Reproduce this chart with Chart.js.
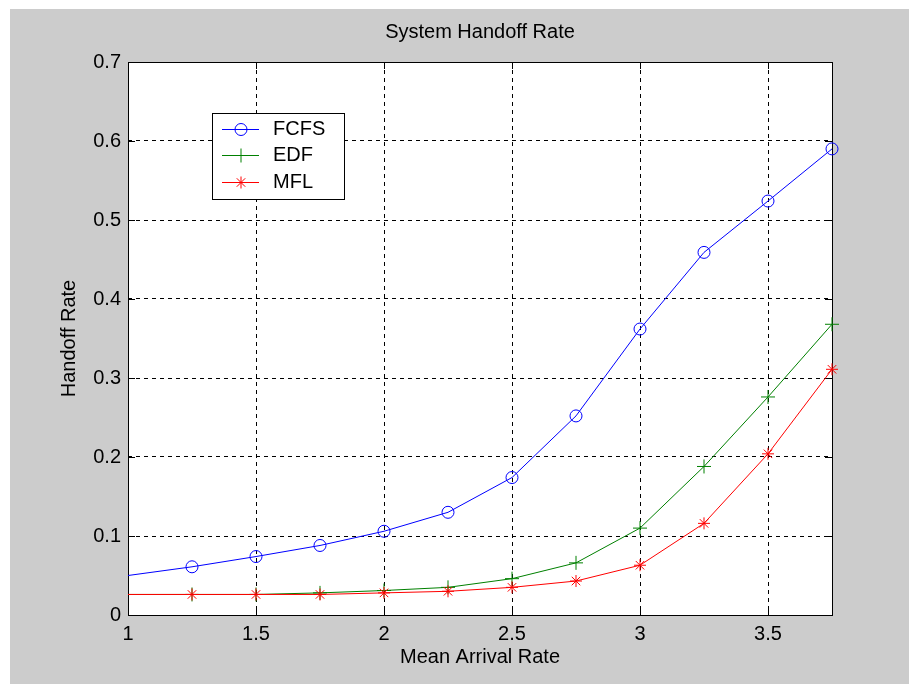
<!DOCTYPE html>
<html>
<head>
<meta charset="utf-8">
<script src="https://cdn.jsdelivr.net/npm/chart.js@4/dist/chart.umd.min.js"></script>
<style>
  html, body { margin: 0; padding: 0; background: #fff; }
  #wrap { width: 909px; height: 684px; }
</style>
</head>
<body>
<div id="wrap"><canvas id="handoffChart" width="909" height="684"></canvas></div>
<script>
// values
const arrivalRate = [1, 1.25, 1.5, 1.75, 2, 2.25, 2.5, 2.75, 3, 3.25, 3.5, 3.75];
const fcfs = [0.050, 0.061, 0.074, 0.088, 0.106, 0.130, 0.174, 0.252, 0.362, 0.459, 0.524, 0.590];
const edf  = [0.026, 0.026, 0.026, 0.028, 0.031, 0.035, 0.046, 0.066, 0.110, 0.188, 0.276, 0.368];
const mfl  = [0.026, 0.026, 0.026, 0.026, 0.028, 0.030, 0.035, 0.043, 0.063, 0.116, 0.204, 0.311];
const xTicks = [1, 1.5, 2, 2.5, 3, 3.5];
const yTicks = [0, 0.1, 0.2, 0.3, 0.4, 0.5, 0.6, 0.7];
const chartTitle = 'System Handoff Rate';

const FONT = '"Liberation Sans", Arial, sans-serif';
Chart.defaults.font.family = FONT;
Chart.defaults.font.size = 20;
Chart.defaults.color = '#000';

const toPoints = ys => arrivalRate.map((x, i) => ({ x: x, y: ys[i] }));
// first sample sits on the left axis and shows no marker
const markerSize = r => c => (c.dataIndex === 0 ? 0 : r);

// grey figure, white axes, box and inward ticks like MATLAB
const figurePlugin = {
  id: 'figure',
  beforeDraw(chart) {
    const { ctx, chartArea: a } = chart;
    ctx.save();
    ctx.fillStyle = '#fff';
    ctx.fillRect(0, 0, chart.width, chart.height);
    ctx.fillStyle = '#cccccc';
    ctx.fillRect(10, 9, chart.width - 10, chart.height - 9);
    ctx.fillStyle = '#fff';
    ctx.fillRect(a.left, a.top, a.right - a.left, a.bottom - a.top);
    // title centred over the axes
    ctx.fillStyle = '#000';
    ctx.font = '20px ' + FONT;
    ctx.textAlign = 'center';
    ctx.textBaseline = 'middle';
    ctx.fillText(chartTitle, (a.left + a.right) / 2, 32);
    ctx.restore();
  },
  beforeDatasetsDraw(chart) {
    const { ctx, chartArea: a, scales } = chart;
    const tl = 7;
    ctx.save();
    ctx.strokeStyle = '#000';
    ctx.lineWidth = 1;
    ctx.beginPath();
    xTicks.forEach(v => {
      const px = Math.round(scales.x.getPixelForValue(v)) + 0.5;
      ctx.moveTo(px, a.bottom); ctx.lineTo(px, a.bottom - tl);
      ctx.moveTo(px, a.top); ctx.lineTo(px, a.top + tl);
    });
    yTicks.forEach(v => {
      const py = Math.round(scales.y.getPixelForValue(v)) + 0.5;
      ctx.moveTo(a.left, py); ctx.lineTo(a.left + tl, py);
      ctx.moveTo(a.right, py); ctx.lineTo(a.right - tl, py);
    });
    ctx.stroke();
    ctx.strokeRect(Math.round(a.left) + 0.5, Math.round(a.top) + 0.5,
      Math.round(a.right - a.left), Math.round(a.bottom - a.top));
    ctx.restore();
  },
  afterDraw(chart) {
    const { ctx } = chart;
    const box = { x: 212, y: 113, w: 132, h: 86 };
    ctx.save();
    ctx.fillStyle = '#fff';
    ctx.fillRect(box.x, box.y, box.w, box.h);
    ctx.strokeStyle = '#000';
    ctx.lineWidth = 1;
    ctx.strokeRect(box.x + 0.5, box.y + 0.5, box.w, box.h);
    const rows = [129, 155, 182];
    chart.data.datasets.forEach((ds, i) => {
      const y = rows[i] + 0.5;
      ctx.strokeStyle = ds.borderColor;
      ctx.beginPath();
      ctx.moveTo(222, y); ctx.lineTo(259, y);
      ctx.stroke();
      ctx.fillStyle = ds.backgroundColor;
      Chart.helpers.drawPoint(ctx, {
        pointStyle: ds.pointStyle, radius: ds.legendRadius, borderWidth: 1, rotation: 0
      }, 241, y);
      ctx.fillStyle = '#000';
      ctx.font = '20px ' + FONT;
      ctx.textBaseline = 'middle';
      ctx.textAlign = 'left';
      ctx.fillText(ds.label, 273, rows[i]);
    });
    ctx.restore();
  }
};

new Chart(document.getElementById('handoffChart'), {
  type: 'line',
  data: {
    datasets: [
      {
        label: 'FCFS', data: toPoints(fcfs), borderColor: '#0000ff',
        backgroundColor: 'rgba(0,0,0,0)', pointStyle: 'circle',
        pointRadius: markerSize(6), legendRadius: 6, order: 0
      },
      {
        label: 'EDF', data: toPoints(edf), borderColor: '#008000',
        backgroundColor: 'rgba(0,0,0,0)', pointStyle: 'cross',
        pointRadius: markerSize(7), legendRadius: 7, order: 2
      },
      {
        label: 'MFL', data: toPoints(mfl), borderColor: '#ff0000',
        backgroundColor: '#ff0000', pointStyle: 'star',
        pointRadius: markerSize(6), legendRadius: 6, order: 1
      }
    ].map(ds => Object.assign({
      borderWidth: 1, pointBorderWidth: 1, pointBorderColor: ds.borderColor,
      tension: 0, fill: false, clip: false
    }, ds))
  },
  options: {
    responsive: false,
    devicePixelRatio: 1,
    animation: false,
    events: [],
    layout: { padding: { left: 0, right: 77, top: 62, bottom: 0 } },
    plugins: {
      legend: { display: false },
      tooltip: { enabled: false },
      title: { display: false }
    },
    scales: {
      x: {
        type: 'linear',
        min: 1,
        max: 3.75,
        afterBuildTicks: s => { s.ticks = xTicks.map(v => ({ value: v })); },
        afterFit: s => { s.height = 69; },
        ticks: { padding: 7, callback: v => String(v), maxRotation: 0, color: '#000' },
        grid: { color: '#000', lineWidth: 1, drawTicks: false },
        border: { display: false, dash: [4, 4] },
        title: { display: true, text: 'Mean Arrival Rate', color: '#000', padding: { top: 0, bottom: 15 } }
      },
      y: {
        type: 'linear',
        min: 0,
        max: 0.7,
        afterBuildTicks: s => { s.ticks = yTicks.map(v => ({ value: v })); },
        afterFit: s => { s.width = 128; },
        ticks: { padding: 7, callback: v => String(+v.toFixed(2)), color: '#000' },
        grid: { color: '#000', lineWidth: 1, drawTicks: false },
        border: { display: false, dash: [4, 4] },
        title: { display: true, text: 'Handoff Rate', color: '#000', padding: { top: 57, bottom: 0 } }
      }
    }
  },
  plugins: [figurePlugin]
});
</script>
</body>
</html>
